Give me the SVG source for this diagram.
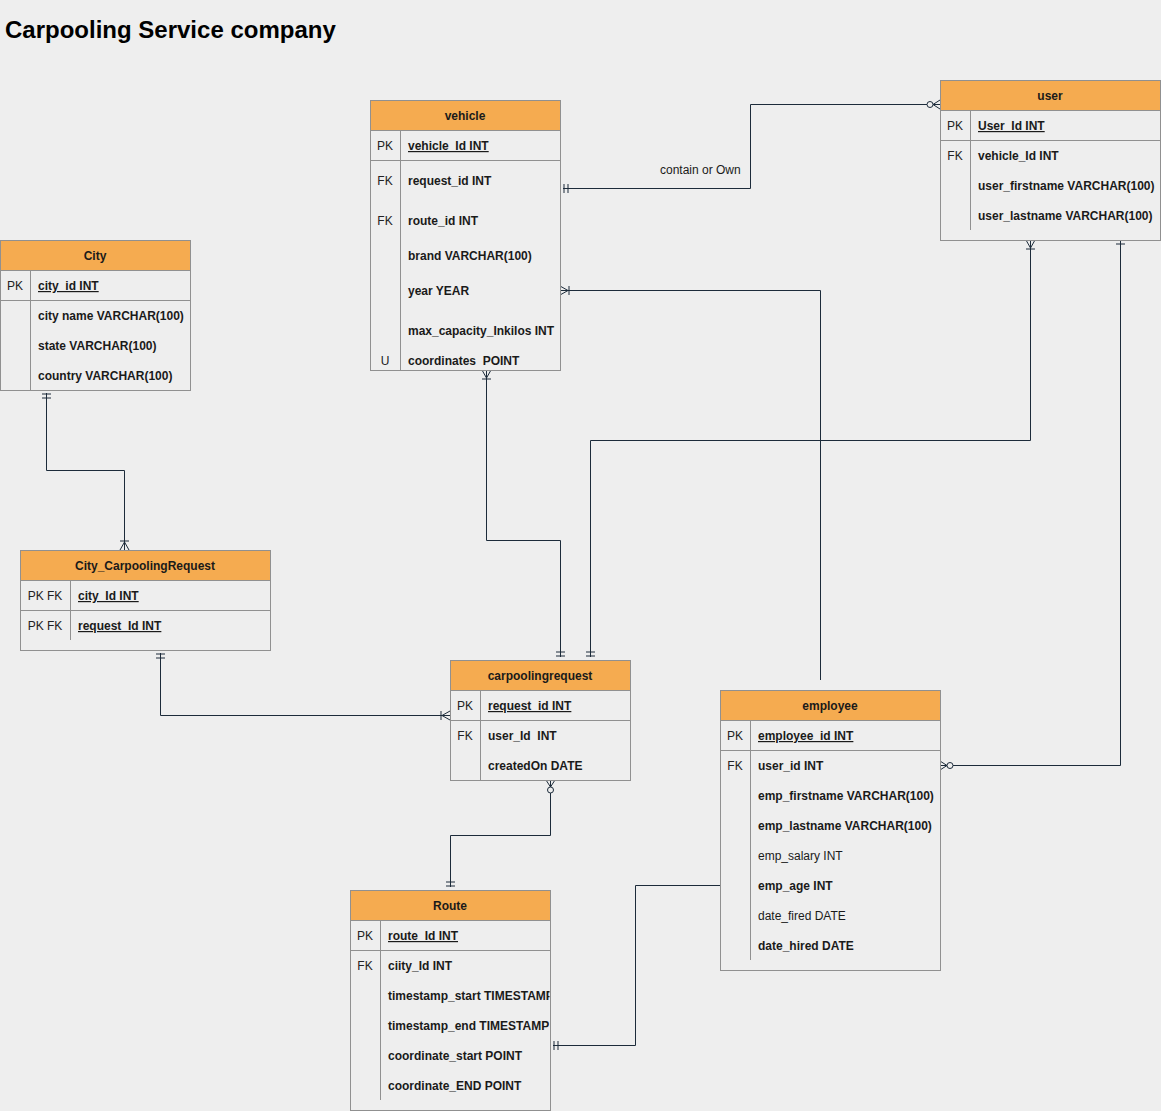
<svg xmlns="http://www.w3.org/2000/svg" width="1161" height="1111" viewBox="0 0 1161 1111">
<style>
.tb{fill:#eeeeee;stroke:#909090;stroke-width:1}
.hd{fill:#f5ab50;stroke:#909090;stroke-width:1}
.ln{stroke:#909090;stroke-width:1;fill:none}
text{font-family:"Liberation Sans",Arial,sans-serif;font-size:12px;fill:#1a1a1a;font-weight:bold;white-space:pre}
.h{text-anchor:middle}
.k{text-anchor:middle;font-weight:normal;fill:#222}
.u{text-decoration:underline}
.r{font-weight:normal}
.title{font-size:24px;fill:#000}
.c{fill:none;stroke:#1c2b3a;stroke-width:1}
.m{fill:none;stroke:#1c2b3a;stroke-width:1}
</style>
<defs>
<marker id="mand" viewBox="-20 -10 30 20" refX="0" refY="0" markerWidth="30" markerHeight="20" markerUnits="userSpaceOnUse" orient="auto-start-reverse"><path class="m" d="M-1,-4.5V4.5M-5,-4.5V4.5"/></marker>
<marker id="one" viewBox="-20 -10 30 20" refX="0" refY="0" markerWidth="30" markerHeight="20" markerUnits="userSpaceOnUse" orient="auto-start-reverse"><path class="m" d="M-4,-4.5V4.5"/></marker>
<marker id="otm" viewBox="-20 -10 30 20" refX="0" refY="0" markerWidth="30" markerHeight="20" markerUnits="userSpaceOnUse" orient="auto-start-reverse"><path class="m" d="M-8,0L0,-4.5M-8,0L0,4.5M-9,-4.5V4.5"/></marker>
<marker id="ztm" viewBox="-20 -10 30 20" refX="0" refY="0" markerWidth="30" markerHeight="20" markerUnits="userSpaceOnUse" orient="auto-start-reverse"><path class="m" d="M-7,0L0,-4.5M-7,0L0,4.5"/><circle cx="-10" cy="0" r="3" fill="#eeeeee" stroke="#1c2b3a" stroke-width="1"/></marker>
<clipPath id="routeClip"><rect x="350" y="890" width="199.5" height="221"/></clipPath>
</defs>
<rect x="0" y="0" width="1161" height="1111" fill="#eeeeee"/>
<text class="title" x="5" y="38">Carpooling Service company</text>

<g id="connectors">
<path class="c" d="M563,188.5H750.5V104.5H940" marker-start="url(#mand)" marker-end="url(#ztm)"/>
<text class="r" x="660" y="174">contain or Own</text>
<path class="c" d="M820.5,680V290.5H560" marker-end="url(#otm)"/>
<path class="c" d="M486.5,370V540.5H560.5V657" marker-start="url(#otm)" marker-end="url(#mand)"/>
<path class="c" d="M1030.5,240V440.5H590.5V657" marker-start="url(#otm)" marker-end="url(#mand)"/>
<path class="c" d="M1120.5,240V765.5H940" marker-start="url(#one)" marker-end="url(#ztm)"/>
<path class="c" d="M46.5,393V470.5H124.5V550" marker-start="url(#mand)" marker-end="url(#otm)"/>
<path class="c" d="M160.5,653V715.5H450" marker-start="url(#mand)" marker-end="url(#otm)"/>
<path class="c" d="M550.5,780V835.5H450.5V887" marker-start="url(#ztm)" marker-end="url(#mand)"/>
<path class="c" d="M720,885.5H635.5V1045.5H553" marker-end="url(#mand)"/>
</g>

<g id="vehicle">
<rect class="tb" x="370.5" y="100.5" width="190" height="270"/>
<rect class="hd" x="370.5" y="100.5" width="190" height="30"/>
<path class="ln" d="M370.5,160.5H560.5M400.5,130.5V370.5"/>
<text class="h" x="465" y="120">vehicle</text>
<text class="k" x="385" y="150">PK</text>
<text class="k" x="385" y="185">FK</text>
<text class="k" x="385" y="225">FK</text>
<text class="k" x="385" y="365">U</text>
<text class="u" x="408" y="150">vehicle_Id INT</text>
<text x="408" y="185">request_id INT</text>
<text x="408" y="225">route_id INT</text>
<text x="408" y="260">brand VARCHAR(100)</text>
<text x="408" y="295">year YEAR</text>
<text x="408" y="335">max_capacity_Inkilos INT</text>
<text x="408" y="365">coordinates  POINT</text>
</g>

<g id="user">
<rect class="tb" x="940.5" y="80.5" width="220" height="160"/>
<rect class="hd" x="940.5" y="80.5" width="220" height="30"/>
<path class="ln" d="M940.5,140.5H1160.5M970.5,110.5V230"/>
<text class="h" x="1050" y="100">user</text>
<text class="k" x="955" y="130">PK</text>
<text class="k" x="955" y="160">FK</text>
<text class="u" x="978" y="130">User_Id INT</text>
<text x="978" y="160">vehicle_Id INT</text>
<text x="978" y="190">user_firstname VARCHAR(100)</text>
<text x="978" y="220">user_lastname VARCHAR(100)</text>
</g>

<g id="city">
<rect class="tb" x="0.5" y="240.5" width="190" height="150"/>
<rect class="hd" x="0.5" y="240.5" width="190" height="30"/>
<path class="ln" d="M0.5,300.5H190.5M30.5,270.5V390.5"/>
<text class="h" x="95" y="260">City</text>
<text class="k" x="15" y="290">PK</text>
<text class="u" x="38" y="290">city_id INT</text>
<text x="38" y="320">city name VARCHAR(100)</text>
<text x="38" y="350">state VARCHAR(100)</text>
<text x="38" y="380">country VARCHAR(100)</text>
</g>

<g id="city_carpoolingrequest">
<rect class="tb" x="20.5" y="550.5" width="250" height="100"/>
<rect class="hd" x="20.5" y="550.5" width="250" height="30"/>
<path class="ln" d="M20.5,610.5H270.5M70.5,580.5V640"/>
<text class="h" x="145" y="570">City_CarpoolingRequest</text>
<text class="k" x="45" y="600">PK FK</text>
<text class="k" x="45" y="630">PK FK</text>
<text class="u" x="78" y="600">city_Id INT</text>
<text class="u" x="78" y="630">request_Id INT</text>
</g>

<g id="carpoolingrequest">
<rect class="tb" x="450.5" y="660.5" width="180" height="120"/>
<rect class="hd" x="450.5" y="660.5" width="180" height="30"/>
<path class="ln" d="M450.5,720.5H630.5M480.5,690.5V780.5"/>
<text class="h" x="540" y="680">carpoolingrequest</text>
<text class="k" x="465" y="710">PK</text>
<text class="k" x="465" y="740">FK</text>
<text class="u" x="488" y="710">request_id INT</text>
<text x="488" y="740">user_Id  INT</text>
<text x="488" y="770">createdOn DATE</text>
</g>

<g id="employee">
<rect class="tb" x="720.5" y="690.5" width="220" height="280"/>
<rect class="hd" x="720.5" y="690.5" width="220" height="30"/>
<path class="ln" d="M720.5,750.5H940.5M750.5,720.5V960"/>
<text class="h" x="830" y="710">employee</text>
<text class="k" x="735" y="740">PK</text>
<text class="k" x="735" y="770">FK</text>
<text class="u" x="758" y="740">employee_id INT</text>
<text x="758" y="770">user_id INT</text>
<text x="758" y="800">emp_firstname VARCHAR(100)</text>
<text x="758" y="830">emp_lastname VARCHAR(100)</text>
<text class="r" x="758" y="860">emp_salary INT</text>
<text x="758" y="890">emp_age INT</text>
<text class="r" x="758" y="920">date_fired DATE</text>
<text x="758" y="950">date_hired DATE</text>
</g>

<g id="route">
<rect class="tb" x="350.5" y="890.5" width="200" height="220"/>
<rect class="hd" x="350.5" y="890.5" width="200" height="30"/>
<path class="ln" d="M350.5,950.5H550.5M380.5,920.5V1100"/>
<text class="h" x="450" y="910">Route</text>
<text class="k" x="365" y="940">PK</text>
<text class="k" x="365" y="970">FK</text>
<g clip-path="url(#routeClip)">
<text class="u" x="388" y="940">route_Id INT</text>
<text x="388" y="970">ciity_Id INT</text>
<text x="388" y="1000">timestamp_start TIMESTAMP</text>
<text x="388" y="1030">timestamp_end TIMESTAMP</text>
<text x="388" y="1060">coordinate_start POINT</text>
<text x="388" y="1090">coordinate_END POINT</text>
</g>
</g>
</svg>
